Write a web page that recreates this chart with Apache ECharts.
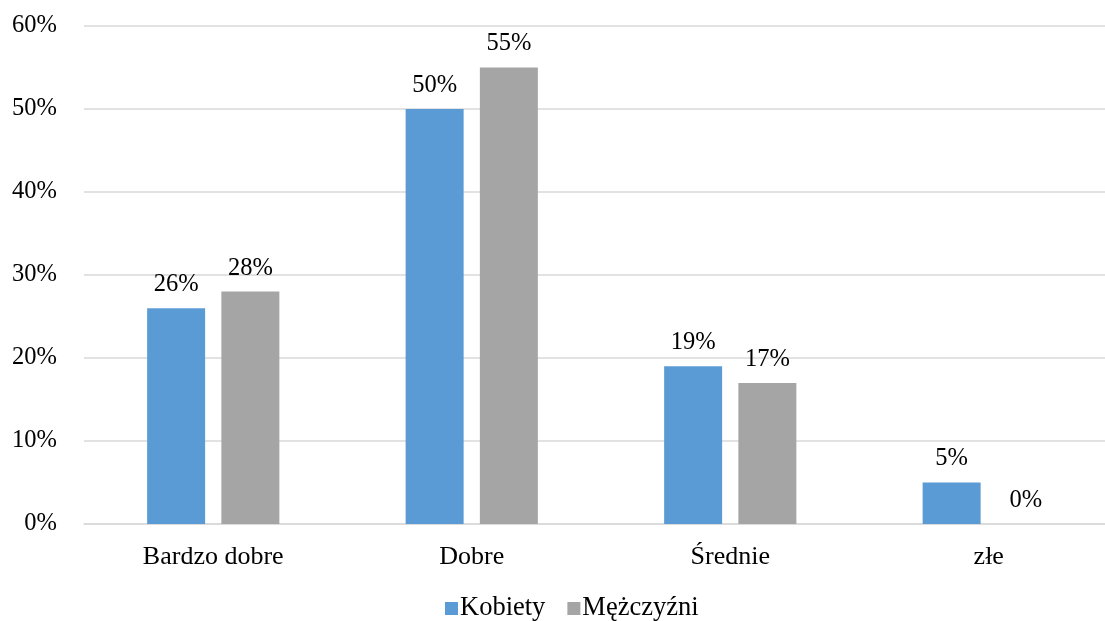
<!DOCTYPE html>
<html>
<head>
<meta charset="utf-8">
<script src="https://cdn.jsdelivr.net/npm/echarts@6/dist/echarts.min.js"></script>
<style>
  html, body { margin: 0; padding: 0; background: #fff; }
  #root { width: 1105px; height: 621px; }
</style>
</head>
<body>
<div id="root"></div>
<script>
var categories = ['Bardzo dobre', 'Dobre', 'Średnie', 'złe'];
var kobiety = [26, 50, 19, 5];
var mezczyzni = [28, 55, 17, 0];
var seriesNames = ['Kobiety', 'Mężczyźni'];

var font = '"Liberation Serif", "Times New Roman", serif';
var myChart = echarts.init(document.getElementById('root'));

var labelStyle = {
    show: true,
    position: 'top',
    distance: 11,
    formatter: '{c}%',
    color: '#000',
    fontFamily: font,
    fontSize: 24.5
};

var option = {
    animation: false,
    textStyle: { fontFamily: font },
    grid: { left: 84, width: 1034, top: 26, bottom: 97, outerBoundsMode: 'none' },
    legend: {
        bottom: -6,
        left: 440,
        itemWidth: 13,
        itemHeight: 13,
        itemGap: 22,
        icon: 'rect',
        textStyle: { fontFamily: font, fontSize: 26.5, color: '#000', padding: [0, 0, 0, -3] },
        data: seriesNames
    },
    xAxis: {
        type: 'category',
        data: categories,
        axisLine: { lineStyle: { color: '#d9d9d9', width: 1.5 } },
        axisTick: { show: false },
        axisLabel: { color: '#000', fontFamily: font, fontSize: 26, margin: 20 }
    },
    yAxis: {
        type: 'value',
        min: 0,
        max: 60,
        interval: 10,
        axisLine: { show: false },
        axisTick: { show: false },
        axisLabel: { formatter: '{value}%', color: '#000', fontFamily: font, fontSize: 24.5, margin: 27 },
        splitLine: { lineStyle: { color: '#d9d9d9', width: 1.5 } }
    },
    series: [
        {
            name: seriesNames[0],
            type: 'bar',
            data: kobiety,
            barWidth: 58,
            barGap: '28%',
            itemStyle: { color: '#5b9bd5' },
            label: labelStyle
        },
        {
            name: seriesNames[1],
            type: 'bar',
            data: mezczyzni,
            barWidth: 58,
            barGap: '28%',
            itemStyle: { color: '#a5a5a5' },
            label: labelStyle
        }
    ]
};

option && myChart.setOption(option);
</script>
</body>
</html>
